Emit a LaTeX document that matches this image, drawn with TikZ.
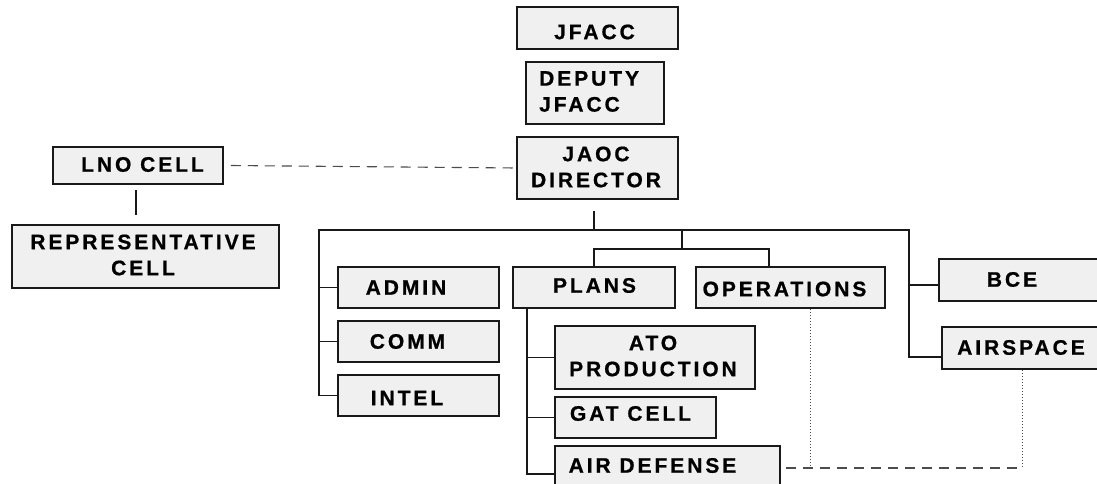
\documentclass[tikz,border=0pt]{standalone}
\usepackage{fontspec}
\setmainfont{Liberation Sans}[LetterSpace=14, BoldFeatures={FakeBold=0.8}]
\usetikzlibrary{fit,calc}
\tikzset{
  box/.style={draw=black!90, line width=1.5pt, fill=black!6, inner sep=0pt},
  txt/.style={inner sep=0pt, font=\fontsize{21}{26}\selectfont\bfseries, text=black},
  conn/.style={draw=black!90, line width=1.4pt},
  mainbar/.style={draw=black!90, line width=2.5pt},
  dashline/.style={draw=black!70, line width=1.1pt, dash pattern=on 10pt off 7pt},
  dotline/.style={draw=black!70, line width=0.9pt, dash pattern=on 1pt off 2pt}
}
\begin{document}
\begin{tikzpicture}[x=1pt,y=-1pt]
\useasboundingbox (0,0) rectangle (1097,484);
\clip (0,0) rectangle (1097,484);
% boxes
\node[box, fit={(517,7) (678,49)}] (jfacc) {};
\node[box, fit={(526,62) (664,124)}] (deputy) {};
\node[box, fit={(517,137) (678,199)}] (jaoc) {};
\node[box, fit={(53,147) (223,184)}] (lno) {};
\node[box, fit={(12,225) (279,288)}] (rep) {};
\node[box, fit={(338,267) (499,308)}] (admin) {};
\node[box, fit={(338,321) (499,362)}] (comm) {};
\node[box, fit={(338,375) (499,416)}] (intel) {};
\node[box, fit={(513,267) (675,308)}] (plans) {};
\node[box, fit={(696,267) (885,308)}] (ops) {};
\node[box, fit={(939,259) (1112,301)}] (bce) {};
\node[box, fit={(942,327) (1112,369)}] (airspace) {};
\node[box, fit={(555,326) (755,389)}] (ato) {};
\node[box, fit={(555,397) (716,438)}] (gat) {};
\node[box, fit={(555,446) (780,502)}] (airdef) {};
% texts
\node[txt] (jfacc-t) at (594.5,32) {JFACC};
\node[txt, anchor=west, align=left] (deputy-t) at (539,91.5) {DEPUTY\\JFACC};
\node[txt, align=center] (jaoc-t) at (596,167) {JAOC\\DIRECTOR};
\node[txt] (lno-t) at (142.5,164.5) {LNO CELL};
\node[txt, align=center] (rep-t) at (143,255) {REPRESENTATIVE\\CELL};
\node[txt] (admin-t) at (406,287.5) {ADMIN};
\node[txt] (comm-t) at (407.5,341.5) {COMM};
\node[txt] (intel-t) at (407,398) {INTEL};
\node[txt] (plans-t) at (594.5,285.5) {PLANS};
\node[txt] (ops-t) at (784.5,289) {OPERATIONS};
\node[txt] (bce-t) at (1012,279.5) {BCE};
\node[txt] (airspace-t) at (1021,347.5) {AIRSPACE};
\node[txt, align=center] (ato-t) at (653,356) {ATO\\PRODUCTION};
\node[txt] (gat-t) at (630.5,413.5) {GAT CELL};
\node[txt] (airdef-t) at (652.5,465.5) {AIR DEFENSE};
% junction coordinates
\coordinate (barL) at (319,230);
\coordinate (barR) at (909,230);
\coordinate (jnc) at (594,230);
\coordinate (pjn) at (682,230);
\coordinate (po) at (682,249);
\coordinate (opj) at (769,249);
\coordinate (psx) at (527,308);
\coordinate (od) at (810,468);
\coordinate (dj) at (1022,468);
% connectors
\draw[dashline] ($(lno.east)+(7,0)$) -- (jaoc.west);
\draw[conn] ($(lno.south -| 136,0)+(0,5)$) -- ($(rep.north -| 136,0)+(0,-9)$);
\draw[conn] ($(jaoc.south -| jnc)+(0,11)$) -- (jnc);
\draw[mainbar] ([xshift=-0.6pt]barL) -- ([xshift=0.6pt]barR);
\draw[conn] (barL) |- (intel.west);
\draw[conn] (admin.west) -- (admin.west -| barL);
\draw[conn] (comm.west) -- (comm.west -| barL);
\draw[conn] (barR) |- ($(airspace.west)+(0,9)$);
\draw[conn] ($(bce.west)+(0,5)$) -- ($(bce.west -| barR)+(0,5)$);
\draw[conn] (pjn) -- (po);
\draw[conn] (plans.north) |- (opj) -- (opj |- ops.north);
\draw[conn] (plans.south -| psx) |- (airdef.west);
\draw[conn] (ato.west) -- (ato.west -| psx);
\draw[conn] (gat.west) -- (gat.west -| psx);
\draw[dashline] ($(airdef.east |- dj)+(5,0)$) -- (dj);
\draw[dotline] (od |- ops.south) -- (od);
\draw[dotline] (airspace.south -| dj) -- (dj);
\end{tikzpicture}
\end{document}
